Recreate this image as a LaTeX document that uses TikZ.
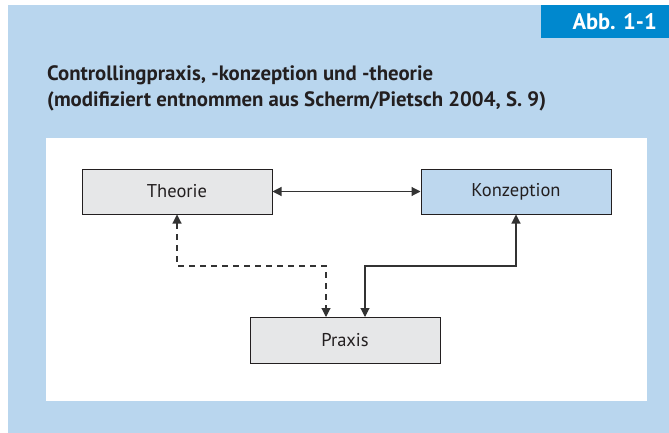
\documentclass[tikz,border=0pt]{standalone}
\usepackage{fontspec}
\setmainfont{PT Sans}
\usetikzlibrary{arrows.meta,calc}
\definecolor{bgblue}{HTML}{B9D6EE}
\definecolor{tabblue}{HTML}{0088CE}
\definecolor{boxgray}{HTML}{E6E7E8}
\definecolor{boxblue}{HTML}{BDD7EE}
\definecolor{ink}{HTML}{231F20}
\definecolor{linec}{HTML}{333333}
\begin{document}
\begin{tikzpicture}[x=1pt,y=-1pt,
  box/.style={draw=ink,line width=1pt,minimum width=190pt,minimum height=45pt,inner sep=0pt,font=\fontsize{18.5}{20}\selectfont,text=ink},
  conn/.style={draw=linec,line width=1.1pt,{Triangle[length=9pt,width=9pt]}-{Triangle[length=9pt,width=9pt]}},
  titlefont/.style={font=\fontsize{20.8}{24}\selectfont\bfseries,text=ink}
]
\useasboundingbox (0,0) rectangle (669,433);
\fill[white] (0,0) rectangle (669,433);
\fill[bgblue] (8,5) rectangle (669,433);
\fill[tabblue] (541,5) rectangle (669,38);
\node[anchor=base east,text=white,font=\fontsize{22.5}{24}\selectfont\bfseries,inner sep=0pt] (abb) at (657,30) {Abb. 1-1};
\node[anchor=base west,inner sep=0pt,titlefont] (t1) at (47,81) {Controllingpraxis, -konzeption und -theorie};
\node[anchor=base west,inner sep=0pt,titlefont] (t2) at (47,107) {(modifiziert entnommen aus Scherm/Pietsch 2004, S. 9)};
\fill[white] (46,138) rectangle (647,400.5);
\node[box,fill=boxgray] (theorie) at (177,191.5) {Theorie};
\node[box,fill=boxblue] (konzeption) at (516,191.5) {Konzeption};
\node[box,fill=boxgray,minimum height=46pt] (praxis) at (345,340) {Praxis};
\coordinate (bend) at (0,266);
\coordinate (pd) at (326,317);
\coordinate (ps) at (365,317);
\draw[conn] (theorie.east) -- (konzeption.west);
\draw[conn,dash pattern=on 6pt off 5pt] (theorie.south) -- (theorie.south |- bend) -| (pd);
\draw[conn] (konzeption.south) -- (konzeption.south |- bend) -| (ps);
\end{tikzpicture}
\end{document}
